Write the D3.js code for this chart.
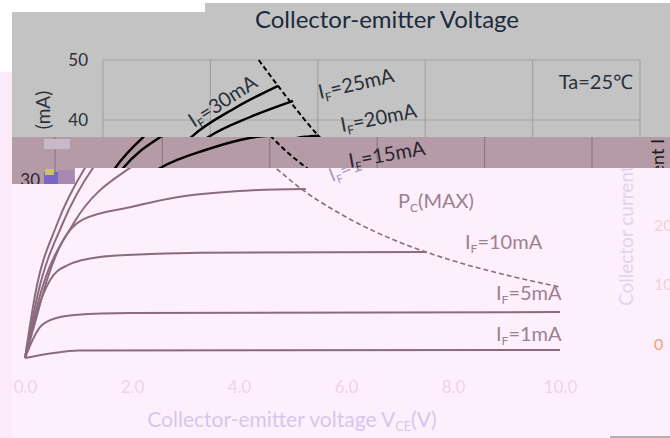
<!DOCTYPE html>
<html>
<head>
<meta charset="utf-8">
<script src="https://cdn.jsdelivr.net/npm/d3@7"></script>
<style>
  body { margin: 0; background: #fff; }
  svg { display: block; font-family: Lato, "Open Sans", sans-serif; }
</style>
</head>
<body>
<div class="chart"></div>
<script>
// chart values (V in volts, I in mA)
var xTicks = [0, 2, 4, 6, 8, 10];
var yTicks = [30, 40, 50];
var rightTicks = ["20", "10", "0"];

var if1 = [[0, 0], [0.5, 1.0], [1.0, 1.6], [10, 1.7]];
var if5 = [[0, 0], [0.15, 4], [0.28, 6.5], [0.47, 8.0], [0.93, 9.1], [1.96, 9.5], [10, 9.7]];
var if10 = [[0, 0], [0.2, 9], [0.47, 16], [0.79, 18.1], [1.4, 19.3], [2.34, 19.7], [3.27, 19.9], [7.5, 20.0]];
var if15 = [[0, 0], [0.2, 8], [0.41, 16], [0.7, 21.5], [1.07, 24.6], [1.96, 26.4], [2.9, 27.9], [4.2, 28.8], [5.25, 29.0]];
var if20 = [[0, 0], [0.3, 14], [0.9, 24], [1.96, 32], [2.8, 35], [3.76, 37.2], [4.02, 37.4]];
var if25 = [[0, 0], [0.25, 14], [0.7, 24], [1.27, 32], [1.97, 37.2], [2.74, 40.5], [3.54, 43.2]];
var if30 = [[0, 0], [0.2, 14], [0.6, 24], [1.12, 32], [1.65, 37.2], [2.46, 42], [3.26, 45.7]];
var pcMax = [[2.9, 50], [3.5, 42.9], [4, 37.5], [5, 30], [6, 25], [7, 21.4], [8, 18.75], [9, 16.7], [10, 15]];

var curves = [if1, if5, if10, if15, if20, if25, if30];

var W = 670, H = 438;
var svg = d3.select(".chart").append("svg").attr("width", W).attr("height", H);
var defs = svg.append("defs");

function clip(id, pts) {
  defs.append("clipPath").attr("id", id)
    .append("polygon").attr("points", pts.map(function(p) { return p.join(","); }).join(" "));
}
clip("cGray", [[12, 12], [205, 12], [205, 3], [670, 3], [670, 137], [12, 137]]);
clip("cBand", [[12, 137], [670, 137], [670, 168], [75, 168], [75, 184], [12, 184]]);
clip("cPink", [[75, 168], [670, 168], [670, 438], [12, 438], [12, 184], [75, 184]]);

// left strip
svg.append("rect").attr("x", 0).attr("y", 72).attr("width", 12).attr("height", H - 72).attr("fill", "#fceafb");

// label with subscript F
function ifLabel(sel, val) {
  sel.append("tspan").text("I");
  sel.append("tspan").attr("font-size", "0.6em").attr("dy", 4).text("F");
  sel.append("tspan").attr("dy", -4).text("=" + val + "mA");
}

// the original chart, drawn twice (gray piece and shifted mauve piece)
var xTop = d3.scaleLinear().domain([0, 10]).range([103, 640]);
var yTop = d3.scaleLinear().domain([0, 50]).range([360, 60]);

function drawOriginal(clipId, dx, bg, grid, ink, labels, full) {
  var g = svg.append("g").attr("clip-path", "url(#" + clipId + ")");
  g.append("rect").attr("width", W).attr("height", H).attr("fill", bg);
  var p = g.append("g").attr("transform", "translate(" + dx + ",0)");

  p.selectAll(".vg").data(xTicks).enter().append("line")
    .attr("x1", function(d) { return xTop(d); }).attr("x2", function(d) { return xTop(d); })
    .attr("y1", yTop(50)).attr("y2", yTop(0))
    .attr("stroke", grid).attr("stroke-width", 1.2);
  p.selectAll(".hg").data(yTicks).enter().append("line")
    .attr("x1", xTop(0)).attr("x2", xTop(10))
    .attr("y1", function(d) { return yTop(d); }).attr("y2", function(d) { return yTop(d); })
    .attr("stroke", grid).attr("stroke-width", 1.2);

  var yAxis = p.append("g").attr("transform", "translate(" + (xTop(0) - 12) + ",0)")
    .call(d3.axisLeft(yTop).tickValues(full ? [40, 50] : [30]).tickSize(0));
  yAxis.select(".domain").remove();
  yAxis.selectAll("text").attr("fill", ink).attr("font-size", 17).attr("font-family", "Lato, sans-serif");

  var line = d3.line().x(function(d) { return xTop(d[0]); }).y(function(d) { return yTop(d[1]); })
    .curve(d3.curveMonotoneX);
  p.selectAll(".curve").data(curves).enter().append("path")
    .attr("d", line).attr("fill", "none").attr("stroke", "#000").attr("stroke-width", 2.4);
  p.append("path").datum(pcMax).attr("d", line).attr("fill", "none")
    .attr("stroke", "#000").attr("stroke-width", 2).attr("stroke-dasharray", "5,3");

  labels.forEach(function(l) {
    var t = p.append("text").attr("transform", "translate(" + l[1] + "," + l[2] + ") rotate(" + l[3] + ")")
      .attr("font-size", 20).attr("fill", ink);
    ifLabel(t, l[0]);
  });
  if (full) {
    p.append("text").attr("x", 633).attr("y", 89).attr("text-anchor", "end")
      .attr("font-size", 20).attr("fill", ink).text("Ta=25\u2103");
    p.append("text").attr("transform", "translate(50,110) rotate(-90)").attr("text-anchor", "middle")
      .attr("font-size", 19).attr("fill", ink).text("(mA)");
    p.append("text").attr("x", 387).attr("y", 28).attr("text-anchor", "middle")
      .attr("font-size", 24).attr("fill", "#1c2a3c").text("Collector-emitter Voltage");
  }
  return g;
}

drawOriginal("cGray", 0, "#c3c3c3", "#a3a3a3", "#2a2f38",
  [["30", 194, 128, -33], ["25", 320, 99, -13], ["20", 342, 132, -11]], true);
var band = drawOriginal("cBand", -48, "#b59ba6", "#8f7782", "#2a2530",
  [["15", 398, 168, -10]], false);
band.append("text").attr("transform", "translate(664,139) rotate(-90)").attr("text-anchor", "end")
  .attr("font-size", 18).attr("fill", "#1a1a1a").text("Collector current I");
// little glitch blocks
band.append("rect").attr("x", 44).attr("y", 172).attr("width", 14).attr("height", 12).attr("fill", "#7a66c8");
band.append("rect").attr("x", 45).attr("y", 169).attr("width", 9).attr("height", 6).attr("fill", "#c9c36a");
band.append("rect").attr("x", 58).attr("y", 170).attr("width", 16).attr("height", 14).attr("fill", "#a88ab0");
band.append("rect").attr("x", 44).attr("y", 139).attr("width", 26).attr("height", 10).attr("fill", "#c8b8c8");

// washed-out copy at the bottom
var xLow = d3.scaleLinear().domain([0, 10]).range([25, 560]);
var yLow = d3.scaleLinear().domain([0, 15, 32, 50]).range([358, 287, 168, 42]);
var pink = svg.append("g").attr("clip-path", "url(#cPink)");
pink.append("rect").attr("width", W).attr("height", H).attr("fill", "#fdf0fc");

var lowLine = d3.line().x(function(d) { return xLow(d[0]); }).y(function(d) { return yLow(d[1]); })
  .curve(d3.curveMonotoneX);
pink.selectAll(".curve").data(curves).enter().append("path")
  .attr("d", lowLine).attr("fill", "none").attr("stroke", "#8c6b7c").attr("stroke-width", 2);
pink.append("path").datum(pcMax).attr("d", lowLine).attr("fill", "none")
  .attr("stroke", "#8c6b7c").attr("stroke-width", 1.6).attr("stroke-dasharray", "5,3");

var xAxis = pink.append("g").attr("transform", "translate(0,378)")
  .call(d3.axisBottom(xLow).tickValues(xTicks).tickFormat(d3.format(".1f")).tickSize(0));
xAxis.select(".domain").remove();
xAxis.selectAll("text").attr("fill", "#efd3e8").attr("font-size", 17).attr("font-family", "Lato, sans-serif");

var xt = pink.append("text").attr("x", 292).attr("y", 427).attr("text-anchor", "middle")
  .attr("font-size", 21).attr("fill", "#d6c6ee");
xt.append("tspan").text("Collector-emitter voltage V");
xt.append("tspan").attr("font-size", "0.6em").attr("dy", 4).text("CE");
xt.append("tspan").attr("dy", -4).text("(V)");

var pc = pink.append("text").attr("x", 398).attr("y", 208).attr("font-size", 20).attr("fill", "#9c8090");
pc.append("tspan").text("P");
pc.append("tspan").attr("font-size", "0.6em").attr("dy", 4).text("C");
pc.append("tspan").attr("dy", -4).text("(MAX)");

[["10", 465, 249], ["5", 496, 300], ["1", 496, 341]].forEach(function(l) {
  var t = pink.append("text").attr("x", l[1]).attr("y", l[2]).attr("font-size", 20).attr("fill", "#9c8090");
  ifLabel(t, l[0]);
});
var t15 = pink.append("text").attr("transform", "translate(332,182) rotate(-22)")
  .attr("font-size", 19).attr("fill", "#a898c4");
ifLabel(t15, "15");

pink.append("text").attr("transform", "translate(633,306) rotate(-90)")
  .attr("font-size", 19).attr("fill", "#e0d4ec").text("Collector current");
pink.selectAll(".rt").data(rightTicks).enter().append("text")
  .attr("x", 654).attr("y", function(d, i) { return [231, 290, 350][i]; })
  .attr("font-size", 16)
  .attr("fill", function(d, i) { return i === 2 ? "#f2a070" : "#f0d0d4"; })
  .text(function(d) { return d; });
pink.append("line").attr("x1", 610).attr("x2", 670).attr("y1", 437).attr("y2", 437)
  .attr("stroke", "#999").attr("stroke-width", 1.5);
</script>
</body>
</html>
